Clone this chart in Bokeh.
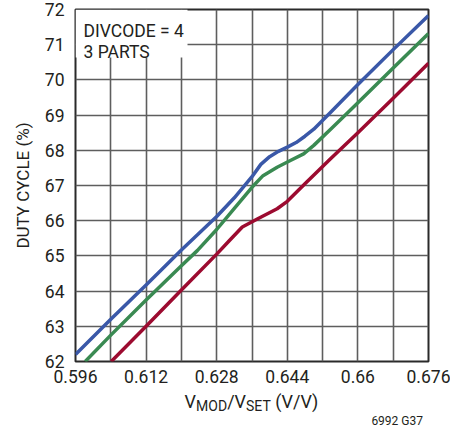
from bokeh.plotting import figure
from bokeh.models import FixedTicker, Label, Range1d, Div
from bokeh.layouts import column
from bokeh.embed import file_html
from bokeh.resources import INLINE

# ---- data ----
x_major = [0.596, 0.612, 0.628, 0.644, 0.66, 0.676]
x_major_labels = ["0.596", "0.612", "0.628", "0.644", "0.66", "0.676"]
x_minor = [0.604, 0.62, 0.636, 0.652, 0.668]
y_ticks = [62, 63, 64, 65, 66, 67, 68, 69, 70, 71, 72]

blue_x = [0.596, 0.604, 0.612, 0.620, 0.628, 0.632, 0.636, 0.638, 0.640, 0.642, 0.644,
          0.646, 0.648, 0.650, 0.654, 0.660, 0.668, 0.676]
blue_y = [62.2, 63.2, 64.17, 65.17, 66.12, 66.65, 67.25, 67.6, 67.82, 67.97, 68.09,
          68.22, 68.4, 68.6, 69.1, 69.87, 70.86, 71.83]

green_x = [0.5982, 0.604, 0.612, 0.620, 0.6236, 0.628, 0.632, 0.636, 0.6385, 0.6417,
           0.6447, 0.6477, 0.650, 0.654, 0.660, 0.668, 0.676]
green_y = [62.0, 62.75, 63.75, 64.72, 65.15, 65.75, 66.35, 66.95, 67.28, 67.52,
           67.71, 67.9, 68.14, 68.62, 69.35, 70.34, 71.32]

red_x = [0.6041, 0.612, 0.620, 0.628, 0.631, 0.6338, 0.6372, 0.6417, 0.644, 0.648,
         0.6538, 0.660, 0.668, 0.676]
red_y = [62.0, 63.0, 64.03, 65.05, 65.45, 65.82, 66.05, 66.34, 66.55, 67.05,
         67.76, 68.5, 69.48, 70.47]

annotation_lines = ["DIVCODE = 4", "3 PARTS"]
x_label_html = ('V<span style="font-size:14px;position:relative;top:3px">MOD</span>/V'
                '<span style="font-size:14px;position:relative;top:3px">SET</span> (V/V)')
y_label = "DUTY CYCLE (%)"
footer = "6992 G37"

FONT = "Roboto"
TXT = "#231f20"
X0, X1, Y0, Y1 = 0.596, 0.676, 62.0, 72.0
FRAME_L, FRAME_T, FRAME_W, FRAME_H = 75, 9, 353, 352


def dx(px):
    return X0 + (px - FRAME_L) * (X1 - X0) / FRAME_W


def dy(py):
    return Y1 - (py - FRAME_T) * (Y1 - Y0) / FRAME_H


p = figure(width=450, height=392, output_backend="svg", toolbar_location=None,
           x_range=Range1d(X0, X1), y_range=Range1d(Y0, Y1),
           min_border_left=FRAME_L, min_border_right=450 - FRAME_L - FRAME_W,
           min_border_top=FRAME_T, min_border_bottom=392 - FRAME_T - FRAME_H,
           frame_width=FRAME_W, frame_height=FRAME_H, margin=(0, 0, 0, 0))
p.background_fill_color = "white"
p.border_fill_color = "white"
p.outline_line_color = "#2a2a2a"
p.outline_line_width = 2

# axes
p.xaxis.ticker = FixedTicker(ticks=x_major, minor_ticks=x_minor)
p.xaxis.major_label_overrides = {v: s for v, s in zip(x_major, x_major_labels)}
p.yaxis.ticker = FixedTicker(ticks=y_ticks)
for ax in (p.xaxis[0], p.yaxis[0]):
    ax.axis_line_color = None
    ax.major_tick_line_color = None
    ax.minor_tick_line_color = None
    ax.major_tick_out = 0
    ax.major_tick_in = 0
    ax.minor_tick_out = 0
    ax.minor_tick_in = 0
    ax.major_label_text_font = FONT
    ax.major_label_text_font_size = "17.5px"
    ax.major_label_text_color = TXT
    ax.axis_label_text_font = FONT
    ax.axis_label_text_font_size = "17px"
    ax.axis_label_text_font_style = "normal"
    ax.axis_label_text_color = TXT
p.xaxis.major_label_standoff = 8
p.yaxis.major_label_standoff = 11
p.yaxis.axis_label = y_label
p.yaxis.axis_label_standoff = 9

# grid
for g in (p.xgrid[0], p.ygrid[0]):
    g.grid_line_color = "#5e5e5e"
    g.grid_line_width = 1.6
p.xgrid.minor_grid_line_color = "#5e5e5e"
p.xgrid.minor_grid_line_width = 1.6

# white box behind the annotation text
p.quad(left=X0, right=dx(187), top=Y1, bottom=dy(57), fill_color="white", line_color=None)

# curves
p.line(blue_x, blue_y, line_color="#3a58a8", line_width=3.5, line_join="round")
p.line(green_x, green_y, line_color="#3a8a52", line_width=3.5, line_join="round")
p.line(red_x, red_y, line_color="#9c0b30", line_width=3.5, line_join="round")

# in-plot text
for txt, py in zip(annotation_lines, (30, 51)):
    p.add_layout(Label(x=dx(83), y=dy(py), text=txt, text_font=FONT, text_font_size="17.5px",
                       text_color=TXT, text_baseline="alphabetic", text_align="left"))

xlab = Div(text=x_label_html, width=403, height=22, margin=(0, 0, 0, 50),
           styles={"font-family": FONT, "font-size": "18px", "line-height": "20px",
                   "color": TXT, "text-align": "center", "white-space": "nowrap"})
foot = Div(text=footer, width=423, height=14, margin=(0, 0, 0, 0),
           styles={"font-family": FONT, "font-size": "12px", "line-height": "14px",
                   "color": TXT, "text-align": "right", "white-space": "nowrap"})

layout = column(p, xlab, foot, spacing=0, margin=(0, 0, 0, 0))
open("out.html", "w").write(file_html(layout, INLINE))
